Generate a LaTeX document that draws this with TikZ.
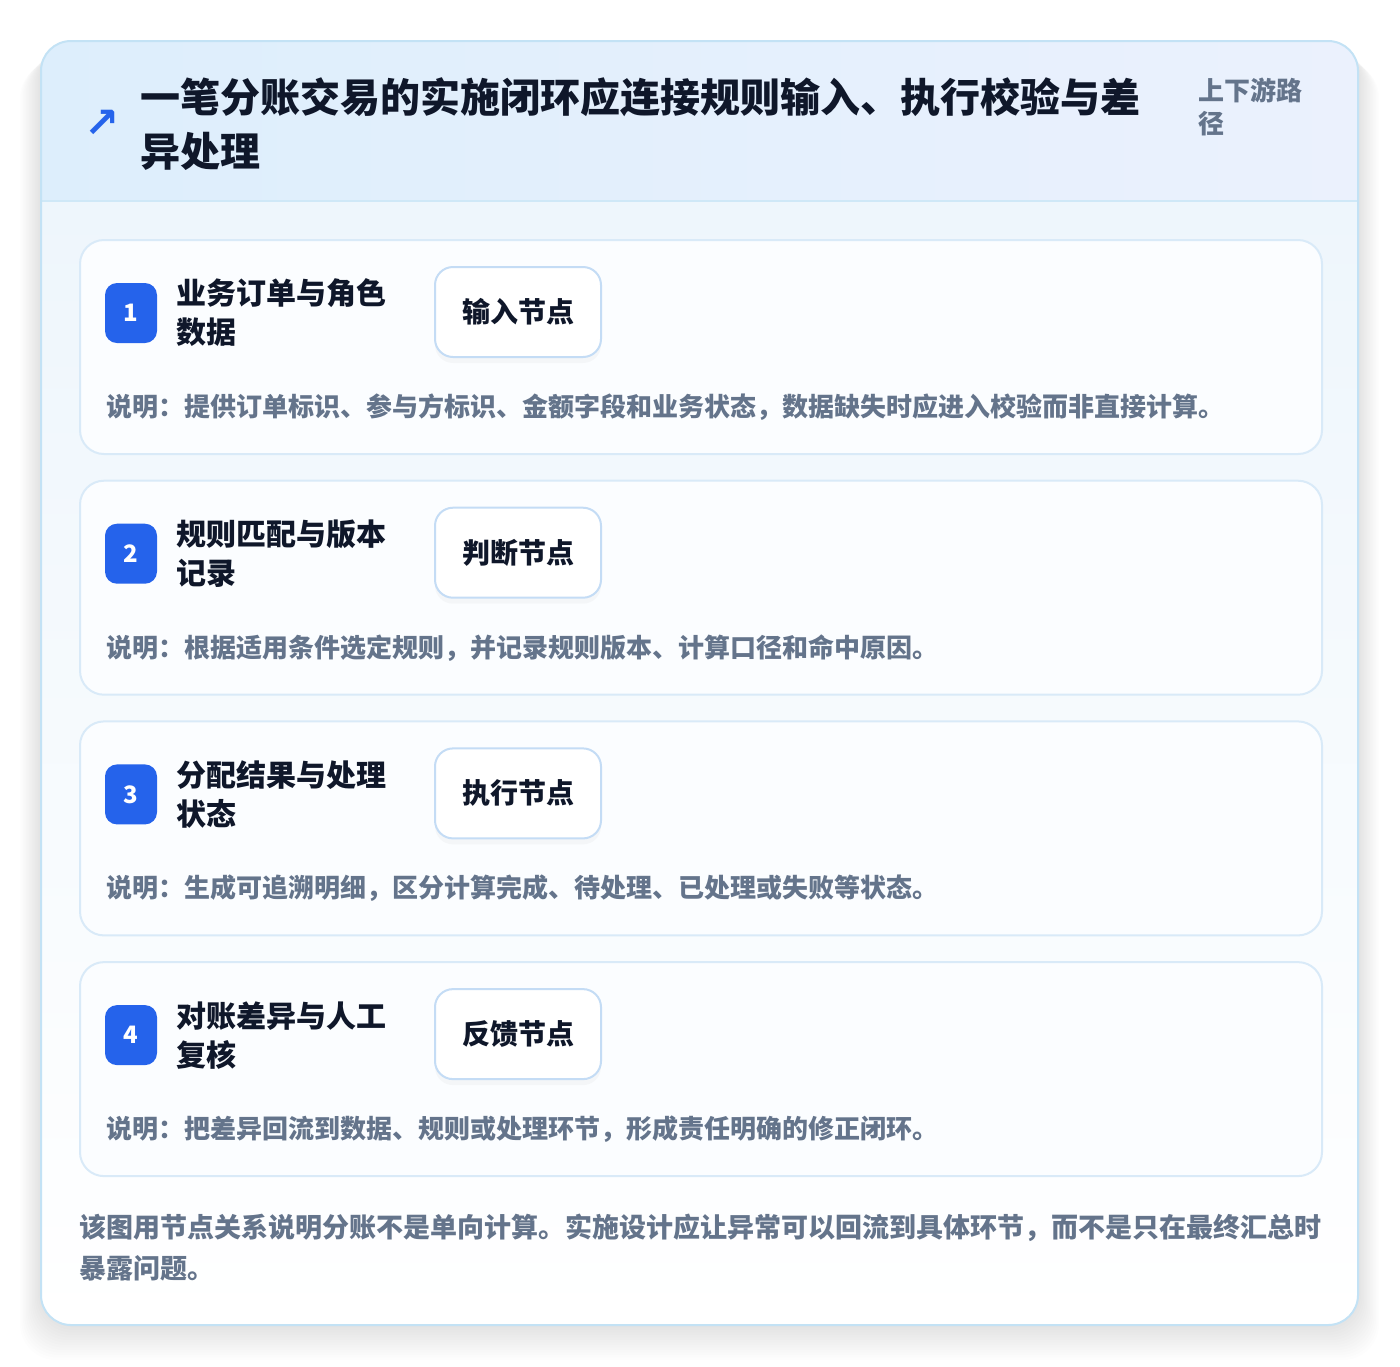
\documentclass[tikz,border=0pt]{standalone}
\usepackage{fontspec}
\setmainfont{Noto Sans CJK SC}
\newfontfamily\symfont{DejaVu Sans}
\usetikzlibrary{positioning,shadows}

\definecolor{ink}{HTML}{0F172A}
\definecolor{muted}{HTML}{64748B}
\definecolor{badgeblue}{HTML}{2563EB}
\definecolor{outline}{HTML}{C3E2F5}
\definecolor{headl}{HTML}{DDEEFC}
\definecolor{headr}{HTML}{EBF1FD}
\definecolor{bodytop}{HTML}{EEF6FC}
\definecolor{cardline}{HTML}{D9EAF8}
\definecolor{cardfill}{HTML}{FBFDFF}
\definecolor{tagline}{HTML}{C4DCF5}

\tikzset{
  card/.style={draw=cardline, line width=1pt, rounded corners=12pt, fill=cardfill},
  badge/.style={fill=badgeblue, rounded corners=6pt, minimum width=26pt, minimum height=30pt,
    inner sep=0pt, text=white, font=\bfseries\fontsize{12}{14}\selectfont},
  tagbox/.style={draw=tagline, line width=1pt, fill=white, rounded corners=9pt,
    minimum width=83pt, minimum height=45pt, inner sep=0pt, text=ink,
    font=\bfseries\fontsize{14}{16}\selectfont,
    drop shadow={opacity=0.05, shadow xshift=0pt, shadow yshift=-3pt}},
  steptitle/.style={anchor=west, align=left, inner sep=0pt, text=ink,
    font=\bfseries\fontsize{15}{19.5}\selectfont},
  note/.style={anchor=west, inner sep=0pt, text=muted,
    font=\bfseries\fontsize{13}{16}\selectfont},
}

\begin{document}
\begin{tikzpicture}[x=0.5pt, y=-0.5pt]
\useasboundingbox (0,0) rectangle (1400,1366);
\fill[white] (0,0) rectangle (1400,1366);
% soft shadow under the panel
\foreach \k in {1,...,14}
\fill[black, opacity=0.009, rounded corners=18pt] (41-1.5*\k,41+1.5*\k) rectangle (1358+1.5*\k,1325+2.5*\k);

% panel
\begin{scope}
\clip[rounded corners=15pt] (41,41) rectangle (1358,1325);
\shade[left color=headl, right color=headr] (41,41) rectangle (1358,201);
\shade[top color=bodytop, bottom color=white] (41,201) rectangle (1358,1325);
\draw[outline!80, line width=1pt] (41,201) -- (1358,201);
\end{scope}
\draw[outline, line width=1pt, rounded corners=15pt] (41,41) rectangle (1358,1325);

% header
\node[text=badgeblue, font=\symfont\bfseries\fontsize{21}{21}\selectfont] (icon) at (102,124) {↗};
\node[anchor=west, align=left, inner sep=0pt, text=ink,
  font=\bfseries\fontsize{20}{27}\selectfont] (title) at (140,124)
  {一笔分账交易的实施闭环应连接规则输入、执行校验与差\\异处理};
\node[anchor=west, align=left, inner sep=0pt, text=muted,
  font=\bfseries\fontsize{13}{16.5}\selectfont] (route) at (1198,107) {上下游路\\径};

% steps
\foreach \lab/\tag/\desc [count=\i] in {
  {业务订单与角色\\数据}/输入节点/{说明：提供订单标识、参与方标识、金额字段和业务状态，数据缺失时应进入校验而非直接计算。},
  {规则匹配与版本\\记录}/判断节点/{说明：根据适用条件选定规则，并记录规则版本、计算口径和命中原因。},
  {分配结果与处理\\状态}/执行节点/{说明：生成可追溯明细，区分计算完成、待处理、已处理或失败等状态。},
  {对账差异与人工\\复核}/反馈节点/{说明：把差异回流到数据、规则或处理环节，形成责任明确的修正闭环。}}
{
  \pgfmathsetmacro\cardtop{239+240.7*(\i-1)}
  \node[card, anchor=north west, minimum width=621pt, minimum height=107pt] (card\i) at (79,\cardtop) {};
  \node[badge] (badge\i) at (131,\cardtop+74) {\i};
  \node[steptitle] (name\i) at (176,\cardtop+74) {\lab};
  \node[tagbox] (tag\i) at (518,\cardtop+73) {\tag};
  \node[note] (desc\i) at (106,\cardtop+168) {\desc};
}

% closing remark
\node[anchor=west, align=left, inner sep=0pt, text=muted,
  font=\bfseries\fontsize{13.5}{20.5}\selectfont] (remark) at (79,1248)
  {该图用节点关系说明分账不是单向计算。实施设计应让异常可以回流到具体环节，而不是只在最终汇总时\\暴露问题。};
\end{tikzpicture}
\end{document}
